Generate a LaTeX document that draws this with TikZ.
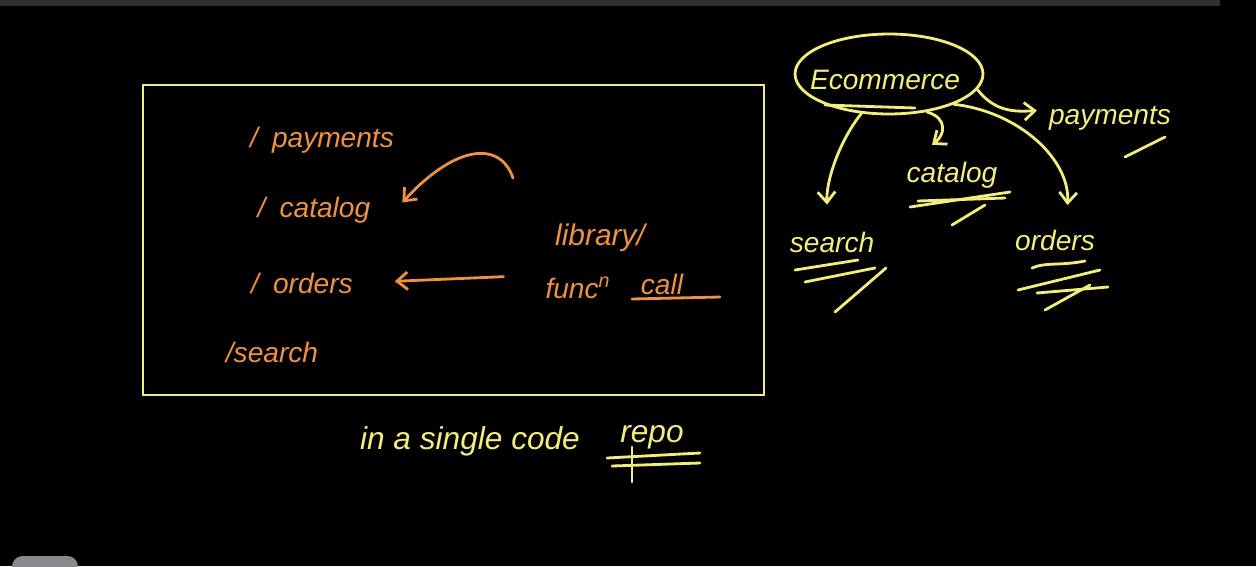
\documentclass[tikz,border=0pt]{standalone}
\usepackage{fontspec}
\setmainfont{Liberation Sans}
\usetikzlibrary{arrows.meta,shapes.geometric}
\definecolor{hy}{HTML}{F3EE7C}
\definecolor{ho}{HTML}{EE9140}
\definecolor{barcol}{HTML}{332E35}
\definecolor{pill}{HTML}{8A8A8E}
\begin{document}
\begin{tikzpicture}[x=0.02cm,y=-0.02cm,
  ypen/.style={draw=hy,line width=1.6pt,line cap=round,line join=round},
  opencil/.style={draw=ho,line width=1.6pt,line cap=round,line join=round},
  ytext/.style={text=hy,font=\fontsize{16}{18}\selectfont\itshape,inner sep=1pt},
  otext/.style={text=ho,font=\fontsize{16}{18}\selectfont\itshape,inner sep=1pt},
  captext/.style={text=hy,font=\fontsize{18}{20}\selectfont\itshape,inner sep=1pt},
  barb/.style={-{Straight Barb[length=6pt,width=10pt,line width=1.6pt]}}]
% background and margins
\fill[black] (0,0) rectangle (1256,566);
\useasboundingbox (0,0) rectangle (1256,566);
\fill[barcol] (0,0) rectangle (1220,6);
\fill[pill,rounded corners=6pt] (12,556) rectangle (78,590);
% left box
\node[draw=hy,line width=1.4pt,minimum width=12.42cm,minimum height=6.2cm,inner sep=0pt] (box) at (453.5,240) {};
\node[otext] (pay) at (322,140) {/\enspace payments};
\node[otext] (cat) at (314,210) {/\enspace catalog};
\node[otext] (ord) at (302,283) {/\enspace orders};
\node[otext] (sea) at (272,352) {/search};
\node[otext,font=\fontsize{17}{19}\selectfont\itshape] (lib) at (600,238) {library/};
\node[otext] (func) at (578,288) {func\textsuperscript{n}};
\node[otext] (call) at (662,284) {call};
\draw[opencil] (632,299) -- (720,297);
\coordinate (arcstart) at (513,178);
\draw[opencil,barb] (arcstart) .. controls (500,140) and (455,145) .. ([xshift=0.6cm,yshift=0.15cm]cat.east);
\draw[opencil,barb,shorten <=0.8cm,shorten >=0.8cm] (func.north west) -- (ord.east);
% bottom caption
\node[captext] (cap) at (470,441) {in a single code};
\node[captext] (repo) at (652,437) {repo};
\draw[ypen] (607,458) -- (700,453);
\draw[ypen] (612,466) -- (700,463);
\draw[ypen] (632,447) -- (632,482);
% right diagram
\node[draw=hy,ellipse,line width=1.6pt,minimum width=3.76cm,minimum height=1.6cm,inner sep=0pt] (eco) at (889,74) {};
\node[ytext] (ecot) at (885,80) {Ecommerce};
\draw[ypen] (825,105) -- (915,108);
\node[ytext] (rpay) at (1110,118) {payments};
\draw[ypen] (1125,157) -- (1165,137);
\node[ytext] (rcat) at (952,175) {catalog};
\draw[ypen] (910,207) -- (1010,192);
\draw[ypen] (918,201) -- (1005,198);
\draw[ypen] (952,225) -- (985,205);
\node[ytext] (rsea) at (832,242) {search};
\draw[ypen] (795,270) -- (858,260);
\draw[ypen] (805,282) -- (875,268);
\draw[ypen] (835,312) -- (886,268);
\node[ytext] (rord) at (1055,240) {orders};
\draw[ypen] (1032,268) .. controls (1045,262) and (1060,266) .. (1085,261);
\draw[ypen] (1018,290) -- (1100,270);
\draw[ypen] (1037,293) -- (1108,287);
\draw[ypen] (1045,310) -- (1090,285);
\draw[ypen,barb] (eco.350) .. controls (995,112) and (1015,112) .. ([xshift=-0.2cm,yshift=0.15cm]rpay.west);
\draw[ypen,barb] (eco.315) .. controls (948,118) and (945,135) .. ([xshift=-0.4cm,yshift=0.3cm]rcat.north);
\draw[ypen,barb] (eco.235) .. controls (840,140) and (826,180) .. ([xshift=-0.1cm,yshift=0.5cm]rsea.north);
\draw[ypen,barb] (eco.335) .. controls (1020,112) and (1070,160) .. ([xshift=0.25cm,yshift=0.45cm]rord.north);
\end{tikzpicture}
\end{document}
